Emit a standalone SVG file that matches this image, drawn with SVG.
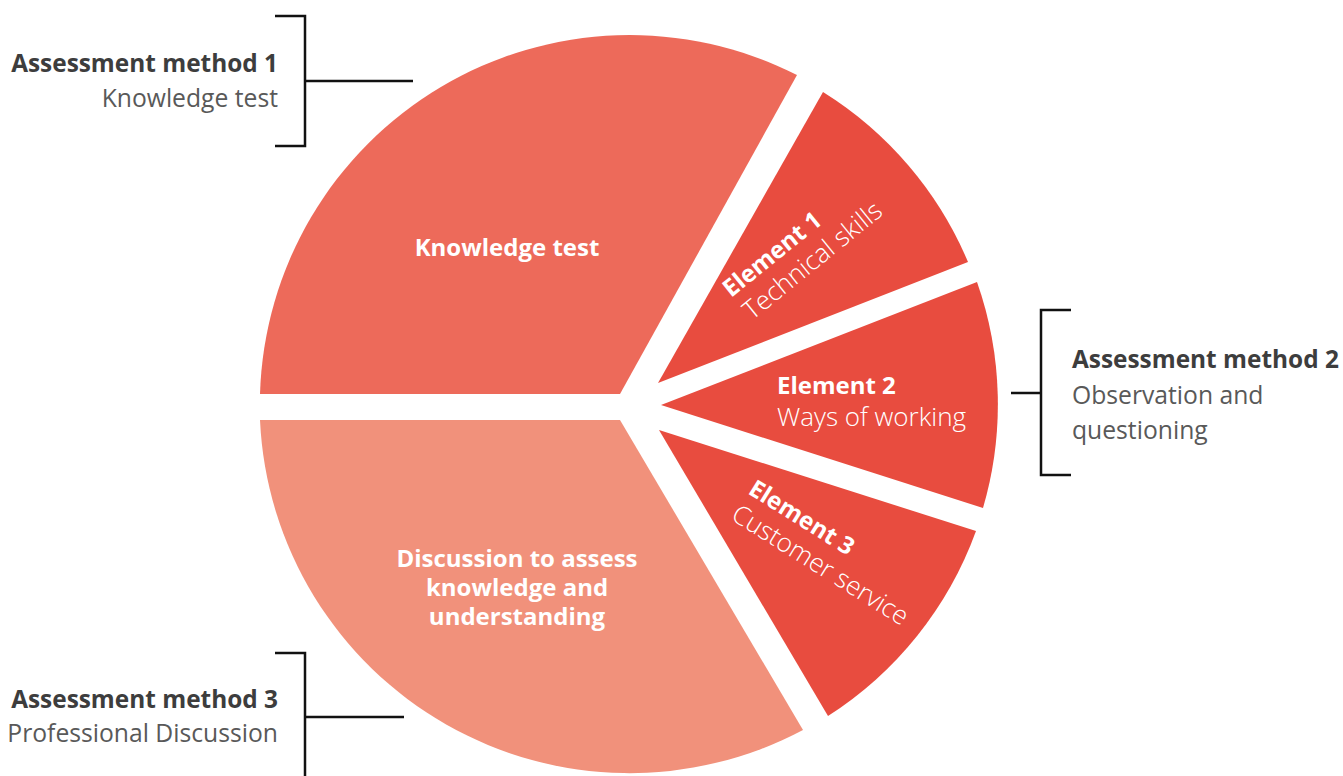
<svg xmlns="http://www.w3.org/2000/svg" width="1343" height="776" viewBox="0 0 1343 776">
<style>
.s-kt{fill:#ED6A5A}
.s-ds{fill:#F1917B}
.s-el{fill:#E84C3F}
.wb{font-family:"Open Sans","Liberation Sans",sans-serif;font-weight:700;fill:#ffffff;font-size:24px}
.wl{font-family:"Open Sans","Liberation Sans",sans-serif;font-weight:300;fill:#ffffff;font-size:26px}
.ab{font-family:"Open Sans","Liberation Sans",sans-serif;font-weight:700;fill:#3d3d3d;font-size:24.4px}
.al{font-family:"Open Sans","Liberation Sans",sans-serif;font-weight:400;fill:#595959;font-size:24.7px}
.br{fill:none;stroke:#111111;stroke-width:2.5}
</style>
<rect width="1343" height="776" fill="#ffffff"/>
<g id="slice-knowledge">
<path class="s-kt" d="M620,394 L260,394 A370,370 0 0 1 797,75 Z"/>
<text class="wb" x="507" y="256" text-anchor="middle">Knowledge test</text>
</g>
<g id="slice-discussion">
<path class="s-ds" d="M620,420 L803,730 A370,370 0 0 1 260,420 Z"/>
<text class="wb" text-anchor="middle"><tspan x="517" y="567">Discussion to assess</tspan><tspan x="517" y="596">knowledge and</tspan><tspan x="517" y="625">understanding</tspan></text>
</g>
<g id="slice-element1">
<path class="s-el" d="M658,383 L823,92 A369,369 0 0 1 968,262 Z"/>
<g transform="translate(731,298) rotate(-39)">
<text class="wb" x="0" y="0">Element 1</text>
<text class="wl" x="2" y="31">Technical skills</text>
</g>
</g>
<g id="slice-element2">
<path class="s-el" d="M661,405 L977,282 A369,369 0 0 1 983,508 Z"/>
<text class="wb" x="777" y="394">Element 2</text>
<text class="wl" x="777" y="426">Ways of working</text>
</g>
<g id="slice-element3">
<path class="s-el" d="M659,430 L976,531 A369,369 0 0 1 828,716 Z"/>
<g transform="translate(747,493) rotate(32)">
<text class="wb" x="0" y="0">Element 3</text>
<text class="wl" x="-1" y="31">Customer service</text>
</g>
</g>
<g id="method1">
<text class="ab" x="278" y="72" text-anchor="end">Assessment method 1</text>
<text class="al" x="278" y="107" text-anchor="end">Knowledge test</text>
</g>
<g id="method2">
<text class="ab" x="1072" y="368">Assessment method 2</text>
<text class="al"><tspan x="1072" y="404">Observation and</tspan><tspan x="1072" y="439">questioning</tspan></text>
</g>
<g id="method3">
<text class="ab" x="278" y="708" text-anchor="end">Assessment method 3</text>
<text class="al" x="278" y="742" text-anchor="end">Professional Discussion</text>
</g>
<g id="connectors">
<path class="br" d="M275,16 H305 V146 H275 M305,81 H413"/>
<path class="br" d="M1071,310 H1041 V475 H1071 M1041,393 H1011"/>
<path class="br" d="M275,653 H305 V778 M305,717 H404"/>
</g>
</svg>
